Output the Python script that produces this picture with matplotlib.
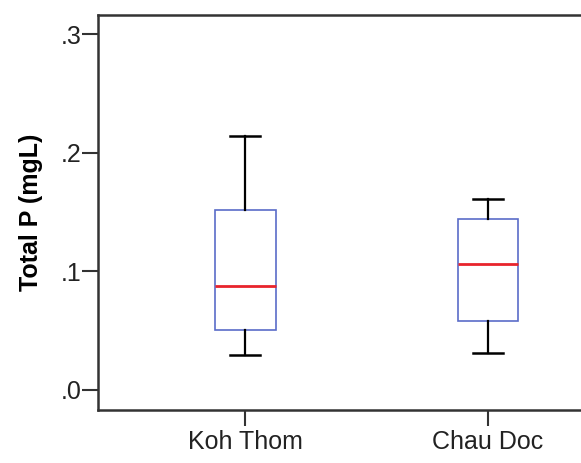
import matplotlib
matplotlib.use("Agg")
import matplotlib.pyplot as plt

# Total P per site (mg/L): five-number summaries
sites = ["Koh Thom", "Chau Doc"]
whisker_low = [0.0291, 0.0311]
q1 = [0.0505, 0.0581]
median = [0.0874, 0.1057]
q3 = [0.1513, 0.1443]
whisker_high = [0.2139, 0.1609]

y_ticks = [0.0, 0.1, 0.2, 0.3]
y_tick_labels = [".0", ".1", ".2", ".3"]

plt.rcParams['font.family'] = ['Liberation Sans', 'DejaVu Sans']

fig = plt.figure(figsize=(5.81, 4.63), dpi=100)
ax = fig.add_axes([0.168, 0.1145, 0.926, 0.853])

stats = []
for i, name in enumerate(sites):
    stats.append({
        'label': name,
        'whislo': whisker_low[i],
        'q1': q1[i],
        'med': median[i],
        'q3': q3[i],
        'whishi': whisker_high[i],
        'fliers': [],
    })

ax.bxp(stats, positions=[1, 2], widths=0.25, capwidths=0.124,
       showfliers=False, patch_artist=True,
       boxprops=dict(facecolor='white', edgecolor='#5a6cc8', linewidth=1.2),
       medianprops=dict(color='#e8242c', linewidth=2.0),
       whiskerprops=dict(color='black', linewidth=1.6),
       capprops=dict(color='black', linewidth=1.8))

ax.set_xlim(0.3905, 2.6095)
ax.set_ylim(-0.0173, 0.3163)
ax.set_yticks(y_ticks)
ax.set_yticklabels(y_tick_labels)
ax.set_xticks([1, 2])
ax.set_xticklabels(sites)

for s in ax.spines.values():
    s.set_linewidth(1.8)
    s.set_color('#333333')

ax.tick_params(axis='both', labelsize=18, length=11.5, width=1.5,
               color='#333333', labelcolor='#222222')
ax.tick_params(axis='y', pad=0)
ax.tick_params(axis='x', pad=3)

ax.set_ylabel("Total P (mgL)", fontsize=18, fontweight='bold', labelpad=13)

fig.savefig("out.png", dpi=100)
